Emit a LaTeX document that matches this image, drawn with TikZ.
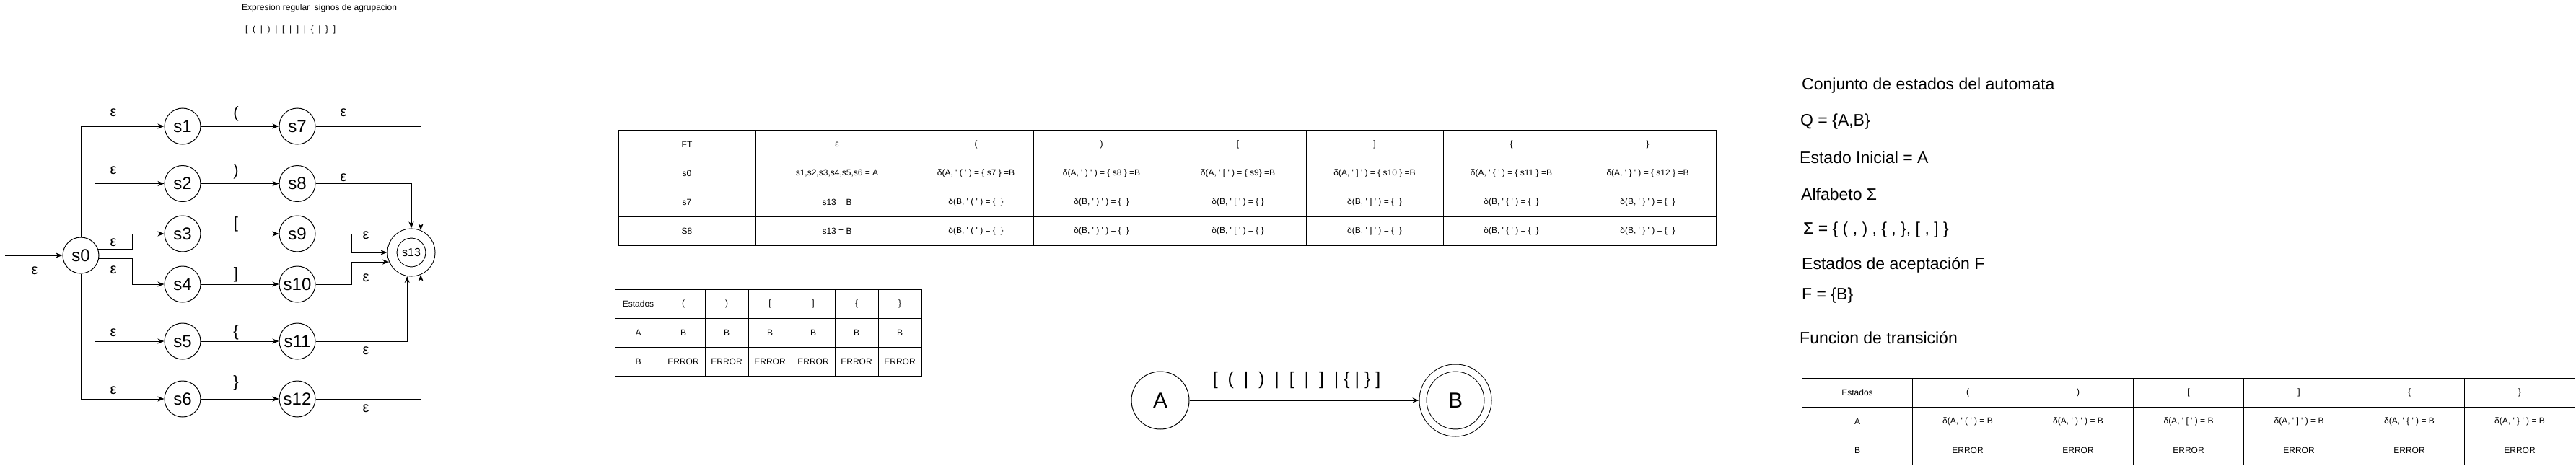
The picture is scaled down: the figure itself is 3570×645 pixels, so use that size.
\documentclass[tikz,border=0pt]{standalone}
\usepackage{fontspec}
\setmainfont{Liberation Sans}
\usetikzlibrary{arrows.meta,positioning,calc}

\newcommand{\fsz}[1]{\fontsize{#1}{#1}\selectfont}
\newcommand{\qt}{\textquotesingle}

\begin{document}
\begin{tikzpicture}[
    x=1pt, y=-1pt,
    every node/.style={inner sep=0pt, align=center},
    state/.style={circle, draw, line width=1pt, minimum size=50pt, font=\fsz{24}},
    finalstate/.style={state, double, double distance=12pt, minimum size=53pt, outer sep=7pt, font=\fsz{16}},
    bigstate/.style={circle, draw, line width=1pt, minimum size=80pt, font=\fsz{30}},
    bigfinal/.style={bigstate, double, double distance=9pt, minimum size=90pt, outer sep=5.5pt},
    lbl/.style={font=\fsz{20}},
    sym/.style={font=\fsz{22}},
    trans/.style={line width=1pt, -{Stealth[length=9pt, width=7pt, inset=2.5pt]}},
    cell/.style={draw, line width=1pt, minimum width=#1, minimum height=40pt, font=\fsz{12}},
    info/.style={anchor=west, font=\fsz{23}},
]
\useasboundingbox (0,0) rectangle (3570,645);

% Title and regular expression
\node[font=\fsz{12}, anchor=west] (title) at (335,11) {Expresion regular\ \ signos de agrupacion};
\node[font=\fsz{12}, anchor=west] (regex) at (340,41) {[~~(~~|~~)~~|~~[~~|~~]~~|~~\{~~|~~\}~~]};

% NFA states
\coordinate (start) at (7,354);
\node[state] (s0) at (112,354) {s0};
\node[state] (s1) at (253,175) {s1};
\node[state] (s2) at (253,254.5) {s2};
\node[state] (s3) at (253,324) {s3};
\node[state] (s4) at (253,394) {s4};
\node[state] (s5) at (253,473) {s5};
\node[state] (s6) at (253,553) {s6};
\node[state] (s7) at (412,175) {s7};
\node[state] (s8) at (412,254.5) {s8};
\node[state] (s9) at (412,324) {s9};
\node[state] (s10) at (412,394) {s10};
\node[state] (s11) at (412,473) {s11};
\node[state] (s12) at (412,553) {s12};
\node[finalstate] (s13) at (570,350) {s13};

% NFA transitions
\draw[trans] (start) -- (s0);
\draw[trans] (s0.north) |- (s1);
\draw[trans] (s0.40) |- (s2);
\draw[trans] (s0.19) -- ++(47,0) |- (s3);
\draw[trans] (s0.-11) -- ++(46,0) |- (s4);
\draw[trans] (s0.-40) |- (s5);
\draw[trans] (s0.south) |- (s6);
\draw[trans] (s1) -- (s7);
\draw[trans] (s2) -- (s8);
\draw[trans] (s3) -- (s9);
\draw[trans] (s4) -- (s10);
\draw[trans] (s5) -- (s11);
\draw[trans] (s6) -- (s12);
\draw[trans] (s7) -| (s13.67);
\draw[trans] (s8) -| (s13.north);
\draw[trans] (s9.east) -- ++(50,0) |- (s13);
\draw[trans] (s10.east) -- ++(50,0) |- (s13.203);
\draw[trans] (s11) -| (s13.260);
\draw[trans] (s12) -| (s13.293);

% NFA labels
\node[lbl] (e0) at (48,375) {ε};
\node[lbl] (e1) at (157,156) {ε};
\node[lbl] (e2) at (157,236) {ε};
\node[lbl] (e3) at (157,336) {ε};
\node[lbl] (e4) at (157,374) {ε};
\node[lbl] (e5) at (157,461) {ε};
\node[lbl] (e6) at (157,541) {ε};
\node[sym] (c1) at (327,158) {(};
\node[sym] (c2) at (327,238) {)};
\node[sym] (c3) at (327,311) {[};
\node[sym] (c4) at (327,381) {]};
\node[sym] (c5) at (327,461) {\{};
\node[sym] (c6) at (327,531) {\}};
\node[lbl] (e7) at (476,156) {ε};
\node[lbl] (e8) at (476,246) {ε};
\node[lbl] (e9) at (507,326) {ε};
\node[lbl] (e10) at (507,385) {ε};
\node[lbl] (e11) at (507,486) {ε};
\node[lbl] (e12) at (507,566) {ε};

% FT table: header
\node[cell=190pt] (ft00) at (952,200.5) {FT};
\node[cell=226pt] (ft01) at (1160,200.5) {ε};
\node[cell=159pt] (ft02) at (1352.5,200.5) {(};
\node[cell=189pt] (ft03) at (1526.5,200.5) {)};
\node[cell=189pt] (ft04) at (1715.5,200.5) {[};
\node[cell=190pt] (ft05) at (1905,200.5) {]};
\node[cell=189pt] (ft06) at (2094.5,200.5) {\{};
\node[cell=189pt] (ft07) at (2283.5,200.5) {\}};

% FT table: s0
\node[cell=190pt] (ft10) at (952,240.5) {s0};
\node[cell=226pt] (ft11) at (1160,240.5) {s1,s2,s3,s4,s5,s6 = A};
\node[cell=159pt] (ft12) at (1352.5,240.5) {δ(A, \qt{} ( \qt{} ) = \{ s7 \} =B};
\node[cell=189pt] (ft13) at (1526.5,240.5) {δ(A, \qt{} ) \qt{} ) = \{ s8 \} =B};
\node[cell=189pt] (ft14) at (1715.5,240.5) {δ(A, \qt{} [ \qt{} ) = \{ s9\} =B};
\node[cell=190pt] (ft15) at (1905,240.5) {δ(A, \qt{} ] \qt{} ) = \{ s10 \} =B};
\node[cell=189pt] (ft16) at (2094.5,240.5) {δ(A, \qt{} \{ \qt{} ) = \{ s11 \} =B};
\node[cell=189pt] (ft17) at (2283.5,240.5) {δ(A, \qt{} \} \qt{} ) = \{ s12 \} =B};

% FT table: s7
\node[cell=190pt] (ft20) at (952,280.5) {s7};
\node[cell=226pt] (ft21) at (1160,280.5) {s13 = B};
\node[cell=159pt] (ft22) at (1352.5,280.5) {δ(B, \qt{} ( \qt{} ) = \{~~\}};
\node[cell=189pt] (ft23) at (1526.5,280.5) {δ(B, \qt{} ) \qt{} ) = \{~~\}};
\node[cell=189pt] (ft24) at (1715.5,280.5) {δ(B, \qt{} [ \qt{} ) = \{ \}};
\node[cell=190pt] (ft25) at (1905,280.5) {δ(B, \qt{} ] \qt{} ) = \{~~\}};
\node[cell=189pt] (ft26) at (2094.5,280.5) {δ(B, \qt{} \{ \qt{} ) = \{~~\}};
\node[cell=189pt] (ft27) at (2283.5,280.5) {δ(B, \qt{} \} \qt{} ) = \{~~\}};

% FT table: S8
\node[cell=190pt] (ft30) at (952,320.5) {S8};
\node[cell=226pt] (ft31) at (1160,320.5) {s13 = B};
\node[cell=159pt] (ft32) at (1352.5,320.5) {δ(B, \qt{} ( \qt{} ) = \{~~\}};
\node[cell=189pt] (ft33) at (1526.5,320.5) {δ(B, \qt{} ) \qt{} ) = \{~~\}};
\node[cell=189pt] (ft34) at (1715.5,320.5) {δ(B, \qt{} [ \qt{} ) = \{ \}};
\node[cell=190pt] (ft35) at (1905,320.5) {δ(B, \qt{} ] \qt{} ) = \{~~\}};
\node[cell=189pt] (ft36) at (2094.5,320.5) {δ(B, \qt{} \{ \qt{} ) = \{~~\}};
\node[cell=189pt] (ft37) at (2283.5,320.5) {δ(B, \qt{} \} \qt{} ) = \{~~\}};

% DFA table
\node[cell=65pt] (dt00) at (884.5,421) {Estados};
\node[cell=60pt] (dt01) at (947,421) {(};
\node[cell=60pt] (dt02) at (1007,421) {)};
\node[cell=60pt] (dt03) at (1067,421) {[};
\node[cell=60pt] (dt04) at (1127,421) {]};
\node[cell=60pt] (dt05) at (1187,421) {\{};
\node[cell=60pt] (dt06) at (1247,421) {\}};
\node[cell=65pt] (dt10) at (884.5,461) {A};
\node[cell=60pt] (dt11) at (947,461) {B};
\node[cell=60pt] (dt12) at (1007,461) {B};
\node[cell=60pt] (dt13) at (1067,461) {B};
\node[cell=60pt] (dt14) at (1127,461) {B};
\node[cell=60pt] (dt15) at (1187,461) {B};
\node[cell=60pt] (dt16) at (1247,461) {B};
\node[cell=65pt] (dt20) at (884.5,501) {B};
\node[cell=60pt] (dt21) at (947,501) {ERROR};
\node[cell=60pt] (dt22) at (1007,501) {ERROR};
\node[cell=60pt] (dt23) at (1067,501) {ERROR};
\node[cell=60pt] (dt24) at (1127,501) {ERROR};
\node[cell=60pt] (dt25) at (1187,501) {ERROR};
\node[cell=60pt] (dt26) at (1247,501) {ERROR};

% DFA
\node[bigstate] (A) at (1608,555) {A};
\node[bigfinal] (B) at (2017,555) {B};
\draw[trans] (A) -- (B);
\node[font=\fsz{25}] (ab) at (1797,527) {[~~(~~|~~)~~|~~[~~|~~]~~| \{ | \} ]};

% Automaton definition
\node[info] (q1) at (2497,119) {Conjunto de estados del automata};
\node[info] (q2) at (2495,169) {Q = \{A,B\}};
\node[info] (q3) at (2494,218) {Estado Inicial = A};
\node[info] (q4) at (2496,269) {Alfabeto Σ};
\node[info] (q5) at (2499,319) {Σ = \{ ( , ) , \{ , \}, [ , ] \}};
\node[info] (q6) at (2497,367) {Estados de aceptación F};
\node[info] (q7) at (2497,410) {F = \{B\}};
\node[info] (q8) at (2494,468) {Funcion de transición};

% Transition function table
\node[cell=153pt] (tf00) at (2574,544.5) {Estados};
\node[cell=153pt] (tf01) at (2727,544.5) {(};
\node[cell=153pt] (tf02) at (2880,544.5) {)};
\node[cell=153pt] (tf03) at (3033,544.5) {[};
\node[cell=153pt] (tf04) at (3186,544.5) {]};
\node[cell=153pt] (tf05) at (3339,544.5) {\{};
\node[cell=153pt] (tf06) at (3492,544.5) {\}};
\node[cell=153pt] (tf10) at (2574,584.5) {A};
\node[cell=153pt] (tf11) at (2727,584.5) {δ(A, \qt{} ( \qt{} ) = B};
\node[cell=153pt] (tf12) at (2880,584.5) {δ(A, \qt{} ) \qt{} ) = B};
\node[cell=153pt] (tf13) at (3033,584.5) {δ(A, \qt{} [ \qt{} ) = B};
\node[cell=153pt] (tf14) at (3186,584.5) {δ(A, \qt{} ] \qt{} ) = B};
\node[cell=153pt] (tf15) at (3339,584.5) {δ(A, \qt{} \{ \qt{} ) = B};
\node[cell=153pt] (tf16) at (3492,584.5) {δ(A, \qt{} \} \qt{} ) = B};
\node[cell=153pt] (tf20) at (2574,624.5) {B};
\node[cell=153pt] (tf21) at (2727,624.5) {ERROR};
\node[cell=153pt] (tf22) at (2880,624.5) {ERROR};
\node[cell=153pt] (tf23) at (3033,624.5) {ERROR};
\node[cell=153pt] (tf24) at (3186,624.5) {ERROR};
\node[cell=153pt] (tf25) at (3339,624.5) {ERROR};
\node[cell=153pt] (tf26) at (3492,624.5) {ERROR};

\end{tikzpicture}
\end{document}
